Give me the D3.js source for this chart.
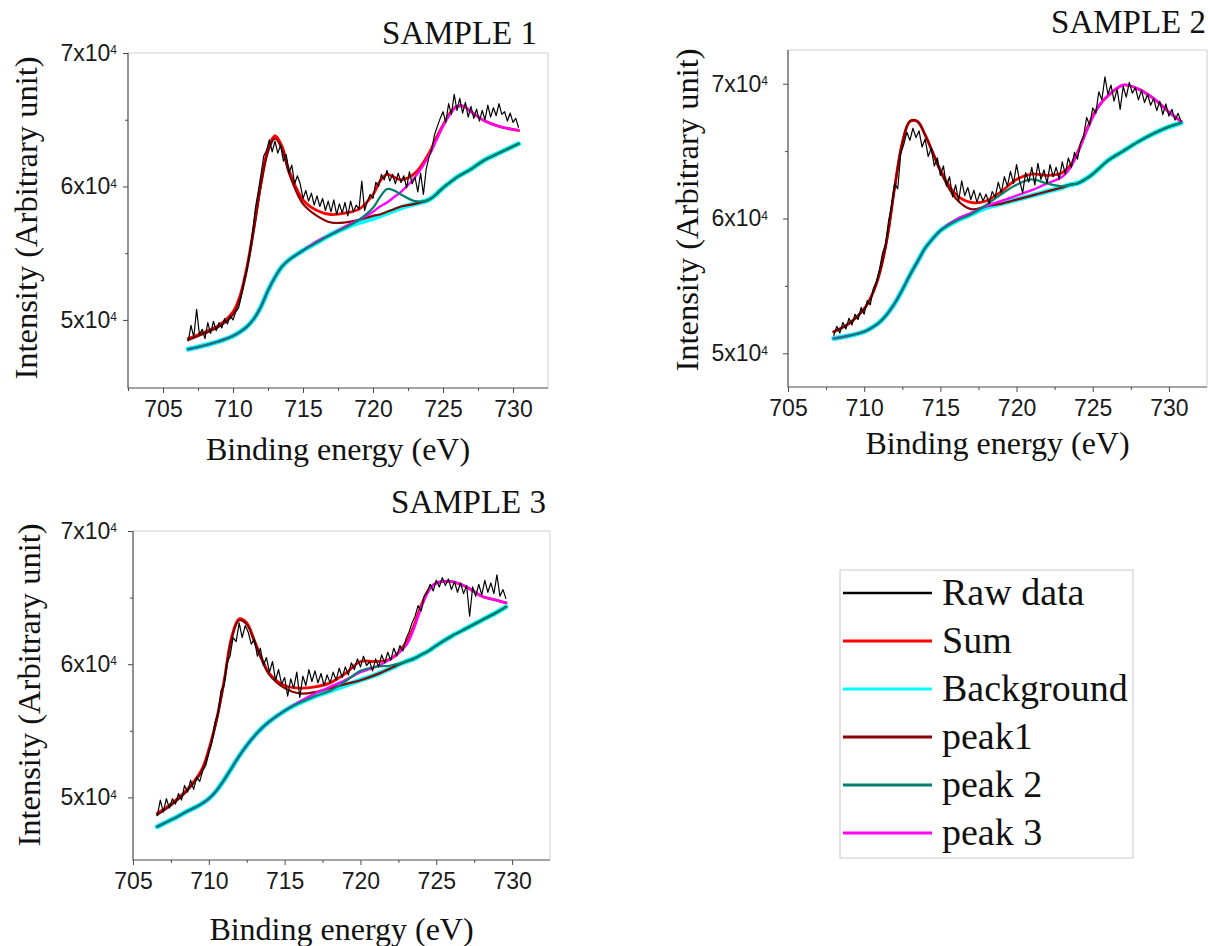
<!DOCTYPE html>
<html>
<head>
<meta charset="utf-8">
<script src="https://cdn.jsdelivr.net/npm/d3@7"></script>
<style>
  body { margin: 0; background: #fff; }
  svg { display: block; }
  .serif { font-family: "Liberation Serif", "Times New Roman", serif; fill: #111; }
  .axis text { font-family: "Liberation Sans", Arial, sans-serif; font-size: 23px; fill: #1a1a1a; }
  .axis path, .axis line { stroke: #4a4a4a; }
</style>
</head>
<body>
<svg id="chart" width="1208" height="946"></svg>
<script>
// binding energy in eV, intensity in units of 10^3 counts
var xTicks = [705, 710, 715, 720, 725, 730];
var xMinorTicks = [702.5, 707.5, 712.5, 717.5, 722.5, 727.5];
var yTicks = [50, 60, 70];
var yMinorTicks = [55, 65];
var sampleTitles = ["SAMPLE 1", "SAMPLE 2", "SAMPLE 3"];
var xTitle = "Binding energy (eV)";
var yTitle = "Intensity (Arbitrary unit)";
var legendLabels = ["Raw data", "Sum", "Background", "peak1", "peak 2", "peak 3"];

// ---- SAMPLE 1 ----
var s1Energy = [706.8, 708, 709, 710, 710.5, 711, 711.5, 712, 712.5, 713, 713.5, 714, 715, 716, 717, 718, 719,
  720, 720.5, 721, 721.5, 722, 723, 724, 724.5, 725, 725.5, 726, 726.5, 727, 728, 729, 730.4];
var s1Background = [47.8, 48.1, 48.4, 48.8, 49.1, 49.5, 50.1, 51.0, 52.2, 53.2, 54.0, 54.5, 55.2, 55.8, 56.4, 56.9, 57.3,
  57.6, 57.8, 58.0, 58.2, 58.4, 58.7, 59.0, 59.4, 59.9, 60.3, 60.7, 61.0, 61.3, 62.0, 62.5, 63.2];
var s1Sum = [48.6, 49.1, 49.6, 50.6, 51.8, 54.0, 57.0, 60.3, 62.8, 63.8, 63.0, 61.2, 59.0, 58.2, 57.9, 58.0, 58.3,
  59.4, 60.4, 60.9, 60.7, 60.5, 61.0, 62.5, 63.6, 64.6, 65.5, 66.0, 66.0, 65.6, 64.9, 64.5, 64.2];
var s1Peak1 = [48.5, 49.0, 49.5, 50.4, 51.6, 53.8, 56.8, 60.1, 62.6, 63.6, 62.8, 61.0, 58.7, 57.8, 57.3, 57.3, 57.5,
  57.8, 57.9, 58.1, 58.3, 58.5, 58.7, 59.0, 59.4, 59.9, 60.3, 60.7, 61.0, 61.3, 62.0, 62.5, 63.2];
var s1Peak2 = [47.8, 48.1, 48.4, 48.8, 49.1, 49.5, 50.1, 51.0, 52.2, 53.2, 54.0, 54.5, 55.2, 55.8, 56.4, 56.9, 57.5,
  58.4, 59.2, 59.8, 59.7, 59.4, 58.9, 59.0, 59.4, 59.9, 60.3, 60.7, 61.0, 61.3, 62.0, 62.5, 63.2];
var s1Peak3 = [47.8, 48.1, 48.4, 48.8, 49.1, 49.5, 50.1, 51.0, 52.2, 53.2, 54.0, 54.5, 55.2, 55.9, 56.4, 57.0, 57.5,
  58.1, 58.5, 58.8, 59.2, 59.6, 60.7, 62.3, 63.4, 64.5, 65.4, 66.0, 66.0, 65.6, 64.9, 64.5, 64.2];
var s1RawStart = 706.8, s1RawStep = 0.2;
var s1Raw = [
  48.4, 49.6, 48.7, 50.8, 48.9, 49.3, 48.6, 49.8, 49.0, 49.9,
  49.2, 49.8, 49.4, 50.1, 49.7, 50.3, 50.0, 50.6, 50.9, 51.8,
  53.0, 53.8, 55.1, 56.6, 58.4, 59.6, 60.9, 62.3, 62.7, 63.5,
  62.6, 63.4, 62.5, 63.1, 61.9, 62.4, 61.0, 61.6, 60.2, 60.8,
  60.2, 59.1, 59.7, 58.9, 59.5, 58.6, 59.3, 58.5, 59.1, 58.2,
  58.9, 58.1, 59.0, 57.9, 58.7, 58.0, 58.8, 57.8, 58.9, 58.1,
  58.6, 58.3, 60.4, 58.2, 58.9, 59.4, 59.1, 60.3, 60.0, 60.9,
  60.5, 61.2, 60.4, 60.9, 60.2, 61.0, 60.3, 60.8, 59.9, 61.1,
  60.2, 60.7, 59.6, 61.0, 59.4, 61.3, 62.2, 62.8, 63.9, 64.5,
  65.1, 65.6, 64.8, 66.2, 65.4, 66.9, 65.7, 66.6, 65.5, 66.3,
  65.2, 66.0, 65.1, 65.8, 64.9, 65.7, 65.0, 66.1, 65.2, 65.9,
  65.3, 66.2, 65.4, 65.6, 64.9, 65.5, 64.8, 65.1, 64.4];

// ---- SAMPLE 2 ----
var s2Energy = [708, 709, 710, 710.5, 711, 711.5, 712, 712.5, 713, 713.5, 714, 714.5, 715, 716, 717, 718, 719,
  720, 721, 722, 723, 723.5, 724, 724.5, 725, 725.5, 726, 727, 728, 729, 730, 730.8];
var s2Background = [51.1, 51.3, 51.6, 51.9, 52.3, 52.9, 53.7, 54.7, 55.8, 56.8, 57.8, 58.5, 59.1, 59.8, 60.3, 60.8, 61.1,
  61.4, 61.7, 62.0, 62.3, 62.5, 62.6, 62.9, 63.3, 63.8, 64.3, 65.0, 65.7, 66.3, 66.8, 67.1];
var s2Sum = [51.6, 52.2, 53.3, 54.3, 55.9, 58.5, 62.3, 65.6, 67.2, 67.2, 66.2, 64.9, 63.6, 61.8, 61.2, 61.3, 62.0,
  62.9, 63.3, 63.2, 63.4, 63.9, 64.9, 66.3, 67.6, 68.5, 69.1, 69.9, 69.6, 68.9, 67.9, 67.2];
var s2Peak1 = [51.6, 52.2, 53.3, 54.3, 55.9, 58.5, 62.3, 65.6, 67.2, 67.2, 66.2, 64.9, 63.5, 61.5, 60.7, 60.9, 61.1,
  61.4, 61.7, 62.0, 62.3, 62.5, 62.6, 62.9, 63.3, 63.8, 64.3, 65.0, 65.7, 66.3, 66.8, 67.1];
var s2Peak2 = [51.1, 51.3, 51.6, 51.9, 52.3, 52.9, 53.7, 54.7, 55.8, 56.8, 57.8, 58.5, 59.1, 59.8, 60.3, 61.0, 61.8,
  62.5, 62.9, 62.6, 62.4, 62.5, 62.6, 62.9, 63.3, 63.8, 64.3, 65.0, 65.7, 66.3, 66.8, 67.1];
var s2Peak3 = [51.1, 51.3, 51.6, 51.9, 52.3, 52.9, 53.7, 54.7, 55.8, 56.8, 57.8, 58.5, 59.1, 59.9, 60.4, 60.9, 61.3,
  61.7, 62.1, 62.6, 63.1, 63.7, 64.8, 66.2, 67.5, 68.5, 69.1, 69.9, 69.6, 68.9, 67.9, 67.2];
var s2RawStart = 708.0, s2RawStep = 0.2;
var s2Raw = [
  51.3, 52.0, 51.5, 52.3, 51.8, 52.6, 52.1, 52.9, 52.5, 53.4,
  52.9, 53.9, 53.6, 54.8, 55.3, 56.2, 57.4, 58.1, 59.8, 61.0,
  62.6, 62.2, 64.8, 65.5, 66.4, 65.8, 66.7, 66.0, 66.5, 65.3,
  65.9, 64.6, 65.2, 63.9, 64.5, 63.2, 63.9, 62.4, 63.1, 61.6,
  62.5, 61.3, 62.8, 61.7, 62.3, 61.4, 62.1, 61.2, 61.9, 61.3,
  61.8, 61.1, 62.0, 61.6, 62.7, 61.9, 63.1, 62.4, 63.5, 62.6,
  64.0, 62.8, 61.9, 63.4, 62.7, 63.8, 62.5, 64.1, 62.9, 63.6,
  62.6, 64.0, 63.1, 63.8, 62.9, 64.2, 63.3, 64.5, 63.8, 64.9,
  64.4, 65.6, 66.1, 67.5, 66.9, 68.2, 67.8, 69.4, 68.8, 70.5,
  69.2, 69.9, 68.7, 69.6, 68.1, 69.8, 69.0, 70.1, 69.3, 69.7,
  68.8, 69.5, 68.6, 69.2, 68.4, 68.9, 68.0, 68.7, 67.7, 68.5,
  67.6, 68.1, 67.3, 67.8, 67.2];

// ---- SAMPLE 3 ----
var s3Energy = [706.6, 707.5, 708.5, 709.5, 710, 710.5, 711, 711.5, 712, 712.5, 713, 713.5, 714, 715, 716, 717, 718,
  719, 720, 721, 722, 723, 723.5, 724, 724.5, 725, 726, 727, 728, 729, 729.6];
var s3Background = [47.8, 48.3, 48.9, 49.5, 49.9, 50.5, 51.3, 52.2, 53.1, 53.9, 54.6, 55.2, 55.7, 56.5, 57.1, 57.6, 58.0,
  58.4, 58.8, 59.2, 59.7, 60.2, 60.4, 60.7, 61.0, 61.4, 62.1, 62.7, 63.3, 63.9, 64.3];
var s3Sum = [48.8, 49.5, 50.5, 52.0, 53.6, 55.8, 58.7, 62.0, 63.4, 63.1, 61.8, 60.4, 59.3, 58.4, 58.2, 58.3, 58.6,
  59.3, 60.2, 60.2, 60.4, 61.6, 62.8, 64.4, 65.6, 66.1, 66.2, 65.8, 65.1, 64.8, 64.6];
var s3Peak1 = [48.7, 49.4, 50.4, 51.9, 53.5, 55.7, 58.6, 61.9, 63.3, 63.0, 61.7, 60.3, 59.2, 58.2, 57.8, 57.9, 58.2,
  58.5, 58.8, 59.2, 59.7, 60.2, 60.4, 60.7, 61.0, 61.4, 62.1, 62.7, 63.3, 63.9, 64.3];
var s3Peak2 = [47.8, 48.3, 48.9, 49.5, 49.9, 50.5, 51.3, 52.2, 53.1, 53.9, 54.6, 55.2, 55.7, 56.5, 57.1, 57.6, 58.0,
  58.7, 59.5, 59.8, 59.9, 60.2, 60.4, 60.7, 61.0, 61.4, 62.1, 62.7, 63.3, 63.9, 64.3];
var s3Peak3 = [47.8, 48.3, 48.9, 49.5, 49.9, 50.5, 51.3, 52.2, 53.1, 53.9, 54.6, 55.2, 55.7, 56.5, 57.2, 57.8, 58.3,
  58.8, 59.4, 59.8, 60.4, 61.4, 62.6, 64.2, 65.5, 66.1, 66.2, 65.8, 65.1, 64.8, 64.6];
var s3RawStart = 706.6, s3RawStep = 0.2;
var s3Raw = [
  48.6, 49.8, 48.9, 49.9, 49.2, 49.9, 49.5, 50.3, 49.8, 50.9,
  50.4, 51.3, 50.6, 51.5, 51.2, 52.0, 52.4, 53.3, 54.1, 55.6,
  56.3, 58.0, 58.4, 60.1, 60.6, 62.0, 61.7, 63.1, 62.0, 62.9,
  62.4, 61.5, 61.9, 60.6, 61.2, 59.9, 60.5, 59.4, 60.2, 58.8,
  59.6, 58.5, 59.0, 57.6, 58.9, 58.2, 59.4, 57.5, 59.1, 58.4,
  59.6, 58.7, 59.5, 58.6, 59.3, 58.4, 59.2, 58.6, 59.4, 58.8,
  59.7, 59.0, 59.8, 59.2, 60.1, 59.6, 60.4, 59.8, 60.6, 59.9,
  60.2, 59.5, 60.4, 59.8, 60.7, 60.1, 60.9, 60.3, 61.2, 60.6,
  61.4, 61.0, 61.9, 62.4, 63.1, 63.6, 64.4, 64.0, 65.1, 65.4,
  66.0, 65.5, 66.3, 65.8, 66.5, 65.9, 66.4, 65.6, 66.2, 65.4,
  66.1, 65.3, 65.9, 63.6, 65.8, 65.1, 66.0, 65.2, 66.3, 65.4,
  66.1, 65.3, 66.7, 65.1, 65.6, 64.9];

// line colours, in legend order
var colors = {raw: "#000000", sum: "#ff0000", background: "#00ffff", peak1: "#8b0000", peak2: "#00806e", peak3: "#ff00ff"};
var widths = {raw: 1.2, sum: 2.8, background: 5, peak1: 2.2, peak2: 2.2, peak3: 2.4};
var legendKeys = ["raw", "sum", "background", "peak1", "peak2", "peak3"];

// panel layout (pixel boxes picked to sit like the original figure)
var panels = [
  {title: sampleTitles[0], energy: s1Energy, background: s1Background, sum: s1Sum, peak1: s1Peak1, peak2: s1Peak2, peak3: s1Peak3,
   rawStart: s1RawStart, rawStep: s1RawStep, raw: s1Raw,
   xDomain: [702.5, 732.5], yDomain: [44.9, 70], left: 128, right: 548, top: 53, bottom: 388, yPad: 6,
   titleX: 537, titleY: 44, yTitleX: 37, yTitleY: 218, xTitleY: 460},
  {title: sampleTitles[1], energy: s2Energy, background: s2Background, sum: s2Sum, peak1: s2Peak1, peak2: s2Peak2, peak3: s2Peak3,
   rawStart: s2RawStart, rawStep: s2RawStep, raw: s2Raw,
   xDomain: [705, 732.5], yDomain: [47.5, 72.5], left: 788, right: 1207, top: 50, bottom: 387, yPad: 15,
   titleX: 1206, titleY: 33, yTitleX: 698, yTitleY: 210, xTitleY: 454},
  {title: sampleTitles[2], energy: s3Energy, background: s3Background, sum: s3Sum, peak1: s3Peak1, peak2: s3Peak2, peak3: s3Peak3,
   rawStart: s3RawStart, rawStep: s3RawStep, raw: s3Raw,
   xDomain: [705, 732.5], yDomain: [45.3, 70], left: 133, right: 550, top: 531, bottom: 860, yPad: 11,
   titleX: 546, titleY: 513, yTitleX: 40, yTitleY: 685, xTitleY: 940}
];

var svg = d3.select("#chart");

panels.forEach(function (p) {
  var g = svg.append("g");
  var x = d3.scaleLinear().domain(p.xDomain).range([p.left, p.right]);
  var y = d3.scaleLinear().domain(p.yDomain).range([p.bottom, p.top]);

  // light frame on top and right
  g.append("path")
    .attr("d", "M" + p.left + "," + p.top + "H" + p.right + "V" + p.bottom)
    .attr("fill", "none").attr("stroke", "#cfcfcf").attr("stroke-width", 1);

  // x axis: minor then major ticks
  g.append("g").attr("class", "axis").attr("transform", "translate(0," + p.bottom + ")")
    .call(d3.axisBottom(x).tickValues(xMinorTicks.filter(function (v) { return v >= p.xDomain[0]; }))
      .tickFormat("").tickSize(3).tickSizeOuter(0));
  g.append("g").attr("class", "axis").attr("transform", "translate(0," + p.bottom + ")")
    .call(d3.axisBottom(x).tickValues(xTicks).tickSize(5).tickPadding(8).tickSizeOuter(0));

  // y axis
  g.append("g").attr("class", "axis").attr("transform", "translate(" + p.left + ",0)")
    .call(d3.axisLeft(y).tickValues(yMinorTicks).tickFormat("").tickSize(3).tickSizeOuter(0));
  var ya = g.append("g").attr("class", "axis").attr("transform", "translate(" + p.left + ",0)")
    .call(d3.axisLeft(y).tickValues(yTicks).tickSize(5).tickPadding(p.yPad).tickSizeOuter(0));
  ya.selectAll(".tick text").each(function (d) {
    var t = d3.select(this).text(null);
    t.append("tspan").text((d / 10) + "x10");
    t.append("tspan").attr("dy", "-0.55em").style("font-size", "12px").text("4");
  });
  // axis lines drawn once over the whole box
  g.selectAll(".axis .domain").remove();
  g.append("path")
    .attr("d", "M" + p.left + "," + p.top + "V" + p.bottom + "H" + p.right)
    .attr("fill", "none").attr("stroke", "#4a4a4a").attr("stroke-width", 1.2);

  // curves
  var smooth = d3.line()
    .x(function (d) { return x(d[0]); })
    .y(function (d) { return y(d[1]); })
    .curve(d3.curveCatmullRom.alpha(0.5));
  var jagged = d3.line()
    .x(function (d) { return x(d[0]); })
    .y(function (d) { return y(d[1]); });

  ["background", "sum", "peak1", "peak3", "peak2"].forEach(function (key) {
    var pts = p.energy.map(function (e, i) { return [e, p[key][i]]; });
    g.append("path").datum(pts)
      .attr("d", smooth)
      .attr("fill", "none")
      .attr("stroke", colors[key])
      .attr("stroke-width", widths[key])
      .attr("stroke-linejoin", "round")
      .attr("stroke-linecap", "round");
  });

  var rawPts = p.raw.map(function (v, i) { return [p.rawStart + i * p.rawStep, v]; });
  g.append("path").datum(rawPts)
    .attr("d", jagged)
    .attr("fill", "none")
    .attr("stroke", colors.raw)
    .attr("stroke-width", widths.raw)
    .attr("stroke-linejoin", "round");

  // titles
  g.append("text").attr("class", "serif")
    .attr("x", p.titleX).attr("y", p.titleY)
    .attr("text-anchor", "end").style("font-size", "33px")
    .text(p.title);
  g.append("text").attr("class", "serif")
    .attr("x", (p.left + p.right) / 2).attr("y", p.xTitleY)
    .attr("text-anchor", "middle").style("font-size", "32px")
    .text(xTitle);
  g.append("text").attr("class", "serif")
    .attr("transform", "translate(" + p.yTitleX + "," + p.yTitleY + ") rotate(-90)")
    .attr("text-anchor", "middle").style("font-size", "32.5px")
    .text(yTitle);
});

// legend
var legend = svg.append("g");
legend.append("rect")
  .attr("x", 840).attr("y", 570).attr("width", 293).attr("height", 288)
  .attr("fill", "none").attr("stroke", "#c8c8c8");
legendKeys.forEach(function (key, i) {
  var ly = 593 + i * 48;
  legend.append("line")
    .attr("x1", 843).attr("x2", 932).attr("y1", ly).attr("y2", ly)
    .attr("stroke", colors[key]).attr("stroke-width", key === "raw" ? 2.5 : 3);
  legend.append("text").attr("class", "serif")
    .attr("x", 942).attr("y", ly + 12)
    .style("font-size", "38px")
    .text(legendLabels[i]);
});
</script>
</body>
</html>
